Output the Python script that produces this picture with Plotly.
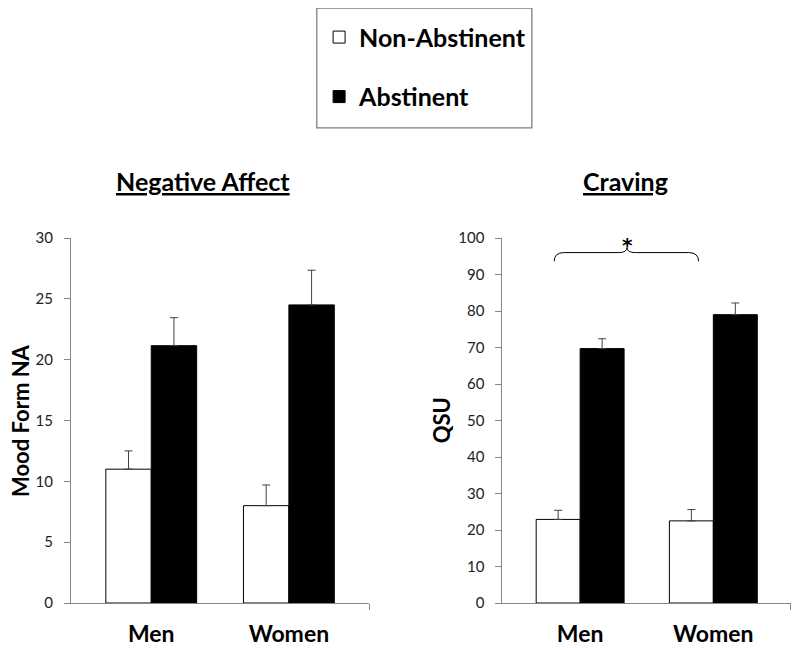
import plotly.graph_objects as go
from plotly.subplots import make_subplots

# ---- data ----
groups = ["Men", "Women"]
series_names = ["Non-Abstinent", "Abstinent"]

na_non_abstinent = [11.0, 8.0]
na_non_abstinent_err = [1.5, 1.7]
na_abstinent = [21.15, 24.5]
na_abstinent_err = [2.3, 2.85]

qsu_non_abstinent = [22.9, 22.5]
qsu_non_abstinent_err = [2.5, 3.1]
qsu_abstinent = [69.7, 79.0]
qsu_abstinent_err = [2.7, 3.2]

na_ticks = [0, 5, 10, 15, 20, 25, 30]
qsu_ticks = [0, 10, 20, 30, 40, 50, 60, 70, 80, 90, 100]

FONT = "Lato"
AXIS_COL = "#868686"
ERR_COL = "#404040"

xpos = list(range(len(groups)))

fig = make_subplots(rows=1, cols=2)

def add_bars(vals, errs, name, fill, col, show):
    fig.add_trace(go.Bar(
        x=xpos, y=vals, name=name, legendgroup=name, showlegend=show,
        marker=dict(color=fill, line=dict(color="#000000", width=1)),
        error_y=dict(type="data", symmetric=False, array=errs,
                     arrayminus=[0] * len(errs), color=ERR_COL,
                     thickness=1, width=4),
    ), row=1, col=col)

add_bars(na_non_abstinent, na_non_abstinent_err, series_names[0], "#ffffff", 1, True)
add_bars(na_abstinent, na_abstinent_err, series_names[1], "#000000", 1, True)
add_bars(qsu_non_abstinent, qsu_non_abstinent_err, series_names[0], "#ffffff", 2, False)
add_bars(qsu_abstinent, qsu_abstinent_err, series_names[1], "#000000", 2, False)

# page offset (browser body margin)
OFF = 8
FW, FH = 800 - OFF, 650 - OFF
L, T = 71 - OFF, 238.3 - OFF
R = FW - (790.7 - OFF)
B = FH - (602.7 - OFF)
W = FW - L - R
H = FH - T - B

def px(x):
    return (x - OFF - L) / W

def py(y):
    return (FH - B - (y - OFF)) / H

xrange_ = [-0.583, 1.583]
xcommon = dict(range=xrange_, tickvals=xpos, ticktext=groups, showline=True,
               linecolor=AXIS_COL, linewidth=1, ticks="", showgrid=False,
               zeroline=False, ticklabelstandoff=10,
               tickfont=dict(family=FONT, size=23, color="#000000", weight="bold"),
               minor=dict(tickvals=[1.583], ticks="outside", ticklen=6,
                          tickcolor=AXIS_COL, showgrid=False))
fig.update_xaxes(**xcommon)
fig.update_xaxes(domain=[0, px(369)], row=1, col=1)
fig.update_xaxes(domain=[px(502.3), 1], row=1, col=2)

ycommon = dict(showline=True, linecolor=AXIS_COL, linewidth=1, ticks="outside",
               ticklen=6, tickcolor=AXIS_COL, showgrid=False, zeroline=False,
               ticklabelstandoff=8,
               tickfont=dict(family=FONT, size=15, color="#222222"))
fig.update_yaxes(**ycommon)
fig.update_yaxes(range=[0, 30], tickvals=na_ticks, row=1, col=1)
fig.update_yaxes(range=[0, 100], tickvals=qsu_ticks, row=1, col=2)

# y-axis titles
for xt, txt in [(20.5, "Mood Form NA"), (441.7, "QSU")]:
    fig.add_annotation(xref="paper", yref="paper", x=px(xt), y=py(420.5),
                       xanchor="center", yanchor="middle", textangle=-90,
                       text=txt, showarrow=False, borderpad=0,
                       font=dict(family=FONT, size=22, color="#000000", weight="bold"))

# significance brace on craving panel
fig.add_shape(type="path", xref="x2", yref="y2",
              path="M -0.195,93.6 Q -0.195,96 -0.12,96 L 0.29,96 Q 0.352,96 0.352,97.4 "
                   "Q 0.352,96 0.414,96 L 0.815,96 Q 0.889,96 0.889,93.6",
              line=dict(color="#000000", width=1))
fig.add_annotation(xref="x2", yref="y2", x=0.352, y=98.0, text="*", showarrow=False,
                   xanchor="center", yanchor="middle",
                   font=dict(family="DejaVu Sans", size=20, color="#000000", weight="bold"))

# panel titles
fig.add_annotation(xref="paper", yref="paper", x=px(202.5), y=py(181),
                   xanchor="center", yanchor="middle",
                   text="<u>Negative Affect</u>", showarrow=False,
                   font=dict(family=FONT, size=25, color="#000000", weight="bold"))
fig.add_annotation(xref="paper", yref="paper", x=px(625), y=py(181),
                   xanchor="center", yanchor="middle",
                   text="<u>Craving</u>", showarrow=False,
                   font=dict(family=FONT, size=25, color="#000000", weight="bold"))

# legend box
fig.add_shape(type="rect", xref="paper", yref="paper",
              x0=px(316.7), x1=px(531.7), y0=py(128.3), y1=py(8.7),
              line=dict(color="#7f7f7f", width=1.3), fillcolor="rgba(0,0,0,0)")

fig.update_layout(
    width=FW, height=FH,
    margin=dict(l=L, r=R, t=T, b=B, autoexpand=False),
    paper_bgcolor="#ffffff", plot_bgcolor="#ffffff",
    barmode="group", bargap=0.34, bargroupgap=0,
    font=dict(family=FONT),
    legend=dict(x=px(319), y=py(15), xanchor="left", yanchor="top",
                traceorder="grouped", tracegroupgap=24,
                bgcolor="rgba(0,0,0,0)", borderwidth=0,
                font=dict(family=FONT, size=25, color="#000000", weight="bold")),
)

fig.write_html("out.html")
